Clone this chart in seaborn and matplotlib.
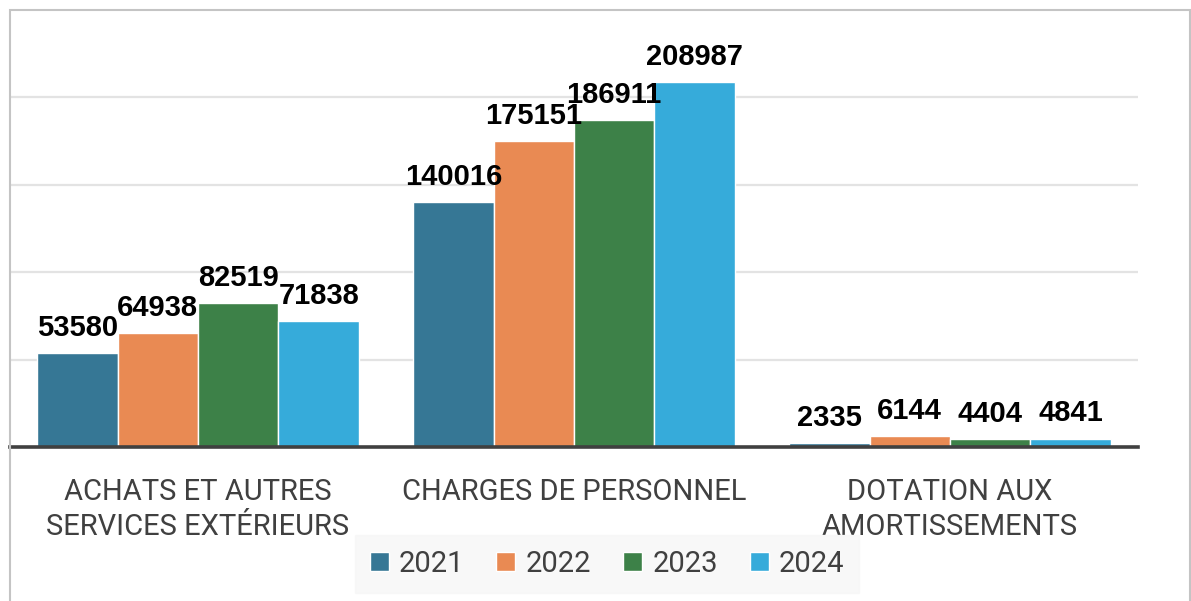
import pandas as pd
import numpy as np
import matplotlib.pyplot as plt
import seaborn as sns
from matplotlib.patches import Rectangle

categories = ["ACHATS ET AUTRES\nSERVICES EXTÉRIEURS", "CHARGES DE PERSONNEL", "DOTATION AUX\nAMORTISSEMENTS"]
years = ["2021", "2022", "2023", "2024"]
v2021 = [53580, 140016, 2335]
v2022 = [64938, 175151, 6144]
v2023 = [82519, 186911, 4404]
v2024 = [71838, 208987, 4841]
colors = ["#367795", "#E98A53", "#3D8148", "#36ABDA"]

rows = []
for yr, vals in zip(years, [v2021, v2022, v2023, v2024]):
    for cat, v in zip(categories, vals):
        rows.append({"Catégorie": cat, "Année": yr, "Montant": v})
df = pd.DataFrame(rows)

sns.set_style("white")
plt.rcParams['font.family'] = ['Roboto', 'DejaVu Sans']

fig = plt.figure(figsize=(11.91, 6.01), dpi=100)
ax = fig.add_axes([10/1191, (601-447)/601, 1128/1191, 437/601])

sns.barplot(data=df, x="Catégorie", y="Montant", hue="Année", palette=colors, saturation=1,
            width=0.856, gap=0, edgecolor="white", linewidth=1, ax=ax, legend=True)

ax.set_xlim(-0.5, 2.5)
ax.set_ylim(0, 250000)
ax.set_yticks([50000, 100000, 150000, 200000])
ax.set_yticklabels([])
ax.yaxis.grid(True, color="#E3E3E3", linewidth=1.6)
ax.set_axisbelow(True)
ax.tick_params(axis="y", length=0)
ax.tick_params(axis="x", length=0, pad=22, labelsize=21, labelcolor="#404040")
ax.set_xlabel("")
ax.set_ylabel("")
for s in ["top", "right", "left"]:
    ax.spines[s].set_visible(False)
ax.spines["bottom"].set_color("#404040")
ax.spines["bottom"].set_linewidth(2.6)
for lab in ax.get_xticklabels():
    lab.set_linespacing(1.35)

# value labels above each bar
for cont in ax.containers:
    for bar in cont:
        h = bar.get_height()
        ax.annotate(f"{int(h)}", (bar.get_x() + bar.get_width() / 2, h),
                    xytext=(0, 8), textcoords="offset points", ha="center", va="bottom",
                    fontsize=21, fontweight="bold", color="black",
                    family=["Liberation Sans", "DejaVu Sans"])

leg = ax.legend(loc="center", bbox_to_anchor=(607/1191, 1 - 564/601), bbox_transform=fig.transFigure,
                ncol=4, frameon=True, fontsize=21, handlelength=0.65, handleheight=0.65,
                handletextpad=0.35, columnspacing=1.1, borderpad=0.5, fancybox=False)
leg.get_frame().set_facecolor("#F7F7F7")
leg.get_frame().set_edgecolor("#F7F7F7")
for t in leg.get_texts():
    t.set_color("#404040")

fig.patches.append(Rectangle((10/1191, -0.1), 1180/1191, 1.1 - 10/601, transform=fig.transFigure,
                             fill=False, edgecolor="#C4C4C4", linewidth=1.5))

fig.savefig("out.png", dpi=100)
